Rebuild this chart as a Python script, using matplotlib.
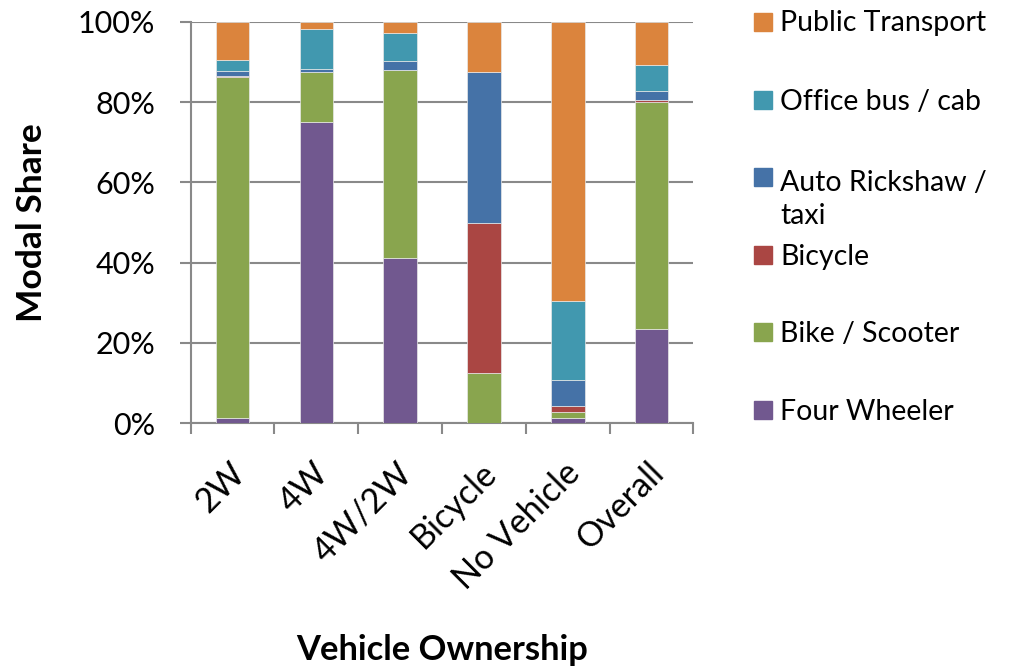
import numpy as np
import matplotlib
matplotlib.use("Agg")
import matplotlib.pyplot as plt
from matplotlib.patches import Rectangle
from matplotlib.transforms import ScaledTranslation

plt.rcParams['font.family'] = ['Lato', 'DejaVu Sans']

# vehicle ownership groups
categories = ["2W", "4W", "4W/2W", "Bicycle", "No Vehicle", "Overall"]

# modal share in %, stacked bottom to top
four_wheeler = [1.3, 75.0, 41.2, 0.0, 1.4, 23.5]
bike_scooter = [84.9, 12.5, 46.9, 12.5, 1.5, 56.4]
bicycle = [0.4, 0.0, 0.0, 37.5, 1.5, 0.6]
auto_taxi = [1.2, 0.7, 2.1, 37.5, 6.3, 2.3]
office_bus = [2.6, 9.9, 7.1, 0.0, 19.8, 6.3]
public_transport = [9.6, 1.9, 2.7, 12.5, 69.5, 10.9]

series_names = ["Four Wheeler", "Bike / Scooter", "Bicycle",
                "Auto Rickshaw /\ntaxi", "Office bus / cab", "Public Transport"]
series_values = [four_wheeler, bike_scooter, bicycle, auto_taxi, office_bus, public_transport]
colors = ["#71588F", "#89A54E", "#AA4643", "#4572A7", "#4198AF", "#DB843D"]

grey = "#898989"

fig = plt.figure(figsize=(10.11, 6.68), dpi=100)
ax = fig.add_axes([0.1886, 0.3663, 0.4973, 0.6012])

x = np.arange(len(categories))
bottom = np.zeros(len(categories))
for vals, col in zip(series_values, colors):
    vals = np.array(vals)
    ax.bar(x, vals, 0.4, bottom=bottom, color=col, edgecolor="#e8e8e8",
           linewidth=0.5, zorder=3)
    bottom += vals

ax.set_xlim(-0.5, len(categories) - 0.5)
ax.set_ylim(0, 100)
ax.set_yticks(np.arange(0, 101, 20))
ax.set_yticklabels(["{:.0f}%".format(v) for v in np.arange(0, 101, 20)])
ax.yaxis.grid(True, color=grey, linewidth=1.5, zorder=0)
ax.set_axisbelow(True)

for s in ["top", "right"]:
    ax.spines[s].set_visible(False)
for s in ["left", "bottom"]:
    ax.spines[s].set_color(grey)
    ax.spines[s].set_linewidth(1.5)

ax.tick_params(axis="y", length=8, width=1.5, color=grey, pad=17.5, labelsize=22)

ax.set_xticks(x)
ax.set_xticklabels(categories, rotation=45, ha="right", va="top",
                   rotation_mode="anchor", fontsize=24.5)
ax.set_xticks(np.arange(-0.5, len(categories)), minor=True)
ax.tick_params(axis="x", which="major", length=0, pad=24)
ax.tick_params(axis="x", which="minor", length=8, width=1.5, color=grey)
shift = ScaledTranslation(-0.04, 0, fig.dpi_scale_trans)
for lab in ax.get_xticklabels():
    lab.set_transform(lab.get_transform() + shift)

ax.set_ylabel("Modal Share", fontsize=25.5, fontweight="bold")
ax.yaxis.set_label_coords(-0.284, 0.5)
ax.set_xlabel("Vehicle Ownership", fontsize=24.8, fontweight="bold")
ax.xaxis.set_label_coords(0.5, -0.525)

# legend drawn on the right, top entry first
W, H = 1011.0, 668.0
legend_y = [410, 332, 255, 177, 100, 21.7]
line_px = 38
for name, col, yc in zip(series_names, colors, legend_y):
    fig.add_artist(Rectangle((754 / W, 1 - (yc + 9) / H), 18 / W, 18 / H,
                             transform=fig.transFigure, color=col))
    n_extra = name.count("\n")
    fig.text(780 / W, 1 - (yc + 9.5 + line_px * n_extra) / H, name,
             fontsize=20.5, va="baseline", ha="left",
             linespacing=line_px / (20.5 * 100 / 72))

fig.savefig("out.png", dpi=100)
